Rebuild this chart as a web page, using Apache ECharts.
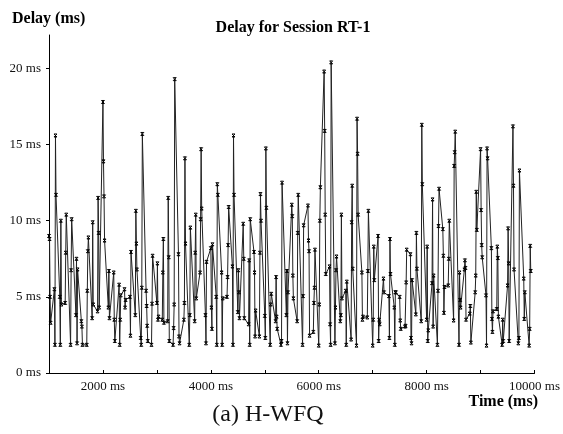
<!DOCTYPE html>
<html>
<head>
<meta charset="utf-8">
<script src="https://cdn.jsdelivr.net/npm/echarts@6/dist/echarts.min.js"></script>
<style>
html,body{margin:0;padding:0;background:#fff;}
#chart{width:563px;height:434px;}
</style>
</head>
<body>
<div id="chart"></div>
<script>
// Packet send times (ms) and measured delays (ms) for session RT-1
const times = [
1000,1010,1020,1030, 1100,1110,1120,1130, 1200,1210,1220,1230, 1300,1310,1320, 1400,1410,1420,
1500,1510,1520,1530, 1600,1610,1620, 1700,1710,1720,1730, 1800,1810,1820, 1900,1910,1920,1930,
2000,2010,2020,2030, 2100,2110,2120, 2200,2210,2220, 2300,2310,2320,2330, 2400,2410,2420,
2500,2510,2520, 2600,2610,2620,2630, 2700,2710,2720,2730, 2800,2810,2820,2830, 2900,2910,2920,
3000,3010,3020,3030, 3100,3110,3120,3130, 3200,3210,3220,3230, 3300,3310,3320,3330, 3400,3410,3420,
3500,3510,3520,3530, 3600,3610,3620, 3700,3710,3720,3730, 3800,3810,3820,3830, 3900,3910,3920,
4000,4010,4020,4030, 4100,4110,4120,4130, 4200,4210,4220, 4300,4310,4320,4330, 4400,4410,4420,4430,
4500,4510,4520,4530, 4600,4610,4620, 4700,4710,4720,4730, 4800,4810,4820,4830, 4900,4910,4920,4930,
5000,5010,5020,5030, 5100,5110,5120, 5200,5210,5220,5230, 5300,5310,5320, 5400,5410,5420,5430,
5500,5510,5520,5530, 5600,5610,5620, 5700,5710,5720, 5800,5810,5820,5830, 5900,5910,5920,5930,
6000,6010,6020,6030, 6100,6110,6120,6130, 6200,6210,6220,6230, 6300,6310,6320,6330, 6400,6410,6420,6430,
6500,6510,6520, 6600,6610,6620,6630, 6700,6710,6720,6730, 6800,6810,6820, 6900,6910,6920,
7000,7010,7020,7030, 7100,7110,7120,7130, 7200,7210, 7300,7310,7320,7330, 7400,7410,7420,7430,
7500,7510,7520, 7600,7610,7620,7630, 7700,7710,7720,7730, 7800,7810,7820, 7900,7910,7920,
8000,8010,8020,8030, 8100,8110,8120,8130, 8200,8210,8220,8230, 8300,8310,8320,8330, 8400,8410,8420,
8500,8510,8520,8530, 8600,8610,8620,8630, 8700,8710,8720,8730, 8800,8810,8820, 8900,8910,8920,8930,
9000,9010,9020,9030, 9100,9110,9120,9130, 9200,9210,9220,9230, 9300,9310,9320,9330, 9400,9410,9420,
9500,9510,9520,9530, 9600,9610,9620, 9700,9710,9720, 9800,9810,9820, 9900,9910,9920,9930
];
const delays = [
9.0,8.8,5.0,3.3, 5.5,1.85,15.6,11.7, 5.0,1.85,10.0,4.5, 4.6,7.9,10.4, 1.85,6.75,10.1,
3.8,7.5,1.95,6.8, 3.4,3.05,1.85, 1.85,5.4,8.0,8.9, 3.6,9.9,4.5, 4.05,11.5,9.2,4.3,
17.8,13.9,11.6,8.7, 4.3,6.7,3.6, 6.6,3.5,2.1, 5.8,1.85,3.5,5.1, 5.5,4.3,4.8,
5.0,2.45,7.95, 3.8,10.65,8.5,6.8, 2.3,1.85,5.6,15.7, 5.4,4.4,3.1,2.1, 1.85,4.55,7.7,
4.6,7.2,3.5,3.7, 3.5,6.6,8.8,3.3, 3.4,11.5,7.6,2.1, 1.85,2.95,4.5,19.3, 7.8,2.4,1.95,
3.5,4.6,14.1,8.5, 1.85,3.8,9.55, 3.4,7.9,10.4,4.9, 6.6,10.1,14.7,10.8, 3.8,1.95,7.3,
8.2,4.3,2.9,8.45, 5.0,1.85,12.4,11.7, 6.6,1.85,4.9, 5.0,6.3,8.4,10.9, 7.0,1.85,15.6,11.7,
4.0,6.75,5.3,3.6, 9.8,7.5,3.6, 3.2,7.4,1.85,10.1, 7.95,6.6,2.4,4.1, 2.4,7.9,11.75,10.0,
3.75,2.3,14.75,10.85, 1.85,4.5,5.2, 3.4,6.3,3.7,2.9, 1.85,2.1,12.5, 3.8,6.7,1.95,5.3,
11.05,10.3,6.4,4.9, 3.4,9.2,11.7, 1.85,5.05,9.7, 11.0,8.7,8.0,2.45, 2.7,4.6,5.6,8.1,
1.8,4.5,10.0,12.2, 19.8,15.9,10.4,6.5, 7.0,3.2,1.85,20.4, 1.95,4.3,6.75,7.65, 3.4,3.8,10.4,4.9,
5.4,1.85,6.0, 2.2,9.9,12.3,6.85, 1.8,16.7,14.4,10.4, 6.6,3.5,3.7, 3.65,6.7,10.65,
1.8,3.5,8.3,6.1, 9.0,2.1,3.5,3.2, 6.2,5.3, 5.05,2.3,8.8,6.5, 4.3,1.85,5.3,5.3,
5.0,3.45,2.9, 3.05,3.1,5.95,8.1, 7.8,2.3,1.95,6.1, 3.85,9.2,6.85, 3.4,16.3,12.4,
3.5,8.3,2.1,2.8, 5.9,11.4,3.05,6.4, 1.85,5.4,9.65,12.1, 9.45,7.7,3.95,5.65, 5.75,7.5,10.0,
3.45,13.6,14.5,15.85, 1.85,6.6,4.8,4.3, 6.8,7.4,6.9,3.5, 3.9,4.4,2.0, 5.3,6.4,11.9,9.4,
14.7,10.7,8.4,7.6, 5.1,1.8,14.75,14.1, 8.2,3.55,2.7,4.05, 4.2,8.3,7.55,3.7, 1.85,3.5,2.1,
5.75,9.5,7.2,2.1, 16.2,12.3,6.8, 1.95,2.3,13.3, 6.2,3.55,5.3, 1.8,2.9,8.35,6.7
];
const xTicks = [1000,2000,3000,4000,5000,6000,7000,8000,9000,10000];
const xLabels = [2000,4000,6000,8000,10000];
const yTicks = [0,5,10,15,20];
const yLabels = [0,5,10,15,20];

const chartTitle = 'Delay for Session RT-1';
const yName = 'Delay (ms)';
const xName = 'Time (ms)';
const caption = '(a) H-WFQ';

const points = times.map((t, i) => [t, delays[i]]);

const serif = "'Liberation Serif', 'Times New Roman', serif";
const chart = echarts.init(document.getElementById('chart'), null, {renderer: 'canvas'});
chart.setOption({
  backgroundColor: '#ffffff',
  animation: false,
  grid: {left: 49, right: 27, top: 35, bottom: 61, containLabel: false},
  xAxis: {
    type: 'value', min: 1000, max: 10000,
    axisLine: {show: true, onZero: false, lineStyle: {color: '#000', width: 1}},
    axisTick: {show: true, inside: true, length: 3, customValues: xTicks, lineStyle: {color: '#000'}},
    axisLabel: {customValues: xLabels, margin: 7, color: '#111', fontFamily: serif, fontSize: 13,
      formatter: v => v + ' ms'},
    splitLine: {show: false}
  },
  yAxis: {
    type: 'value', min: 0, max: 22.2,
    axisLine: {show: true, lineStyle: {color: '#000', width: 1}},
    axisTick: {show: true, inside: false, length: 3, customValues: yTicks, lineStyle: {color: '#000'}},
    axisLabel: {customValues: yLabels, margin: 8, color: '#111', fontFamily: serif, fontSize: 13,
      formatter: v => v + ' ms'},
    splitLine: {show: false}
  },
  graphic: [
    {type: 'text', style: {text: yName, x: 12, y: 19, textAlign: 'left', textVerticalAlign: 'middle',
      font: "bold 16px 'Liberation Serif'", fill: '#000'}},
    {type: 'text', style: {text: chartTitle, x: 293, y: 28, textAlign: 'center', textVerticalAlign: 'middle',
      font: "bold 16px 'Liberation Serif'", fill: '#000'}},
    {type: 'text', style: {text: xName, x: 538, y: 402, textAlign: 'right', textVerticalAlign: 'middle',
      font: "bold 16px 'Liberation Serif'", fill: '#000'}},
    {type: 'text', style: {text: caption, x: 268, y: 415, textAlign: 'center', textVerticalAlign: 'middle',
      font: "24px 'Liberation Serif'", fill: '#111'}}
  ],
  series: [{
    type: 'line',
    data: points,
    showSymbol: true,
    showAllSymbol: true,
    symbol: 'path://M0 0L4 4M4 0L0 4M0 0L4 0M0 4L4 4',
    symbolSize: 3,
    itemStyle: {color: '#000', borderColor: '#000', borderWidth: 1},
    lineStyle: {color: '#222', width: 1},
    silent: true
  }]
});
</script>
</body>
</html>
